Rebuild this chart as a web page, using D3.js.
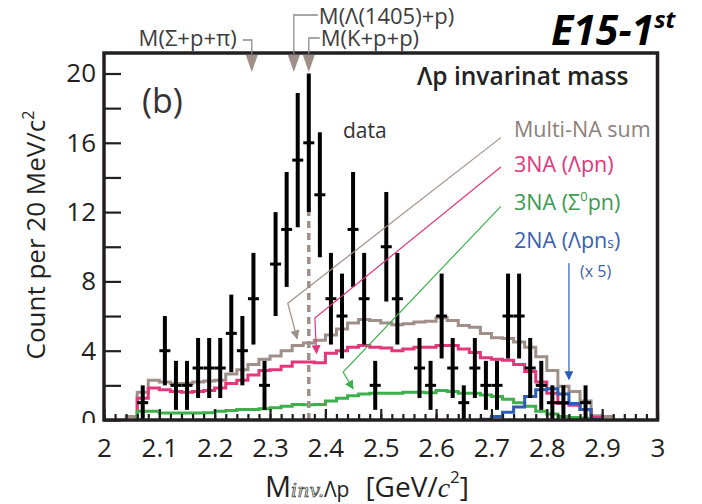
<!DOCTYPE html>
<html>
<head>
<meta charset="utf-8">
<script src="https://cdn.jsdelivr.net/npm/d3@7"></script>
<style>
  body { margin: 0; background: #fff; }
  svg { display: block; }
  text { font-family: "Open Sans", "Noto Sans", sans-serif; }
</style>
</head>
<body>
<svg id="chart" width="702" height="504"></svg>
<script>
// Measured Λp invariant-mass spectrum: bin centres (GeV/c²) and counts per 20 MeV/c²
const dataMass   = [2.07, 2.09, 2.11, 2.13, 2.15, 2.17, 2.19, 2.21, 2.23, 2.25,
                    2.27, 2.29, 2.31, 2.33, 2.35, 2.37, 2.39, 2.41, 2.43, 2.45,
                    2.47, 2.49, 2.51, 2.53, 2.55, 2.57, 2.59, 2.61, 2.63, 2.65,
                    2.67, 2.69, 2.71, 2.73, 2.75, 2.77, 2.79, 2.81, 2.83, 2.85, 2.87];
const dataCounts = [1, 0, 4, 2, 2, 3, 3, 3, 5, 4,
                    7, 2, 9, 11, 15, 16, 13, 7, 6, 11,
                    7, 2, 10, 7, 0, 3, 2, 6, 3, 1,
                    3, 2, 2, 6, 6, 3, 2, 1, 1, 0, 1];

// Simulated spectra, 20 MeV/c² bins given by their lower edge
const simEdges = [2.04, 2.06, 2.08, 2.10, 2.12, 2.14, 2.16, 2.18, 2.20, 2.22, 2.24,
                  2.26, 2.28, 2.30, 2.32, 2.34, 2.36, 2.38, 2.40, 2.42, 2.44,
                  2.46, 2.48, 2.50, 2.52, 2.54, 2.56, 2.58, 2.60, 2.62, 2.64,
                  2.66, 2.68, 2.70, 2.72, 2.74, 2.76, 2.78, 2.80, 2.82, 2.84,
                  2.86, 2.88, 2.90];
const binWidth = 0.02;
const multiNASum = [0.2, 1.6, 2.3, 2.2, 2.1, 2.1, 2.2, 2.25, 2.3, 2.65, 2.9,
                    3.2, 3.5, 3.7, 4.0, 4.3, 4.45, 4.6, 4.9, 5.25, 5.6,
                    5.8, 5.75, 5.6, 5.5, 5.55, 5.65, 5.7, 5.9, 5.75, 5.45,
                    5.35, 5.0, 4.75, 4.7, 4.5, 4.2, 3.65, 2.85, 1.95, 1.65,
                    1.1, 0.25, 0.2];
const threeNALambda = [null, 1.25, 1.85, 1.75, 1.65, 1.6, 1.65, 1.7, 1.85, 2.1, 2.3,
                       2.6, 2.85, 2.9, 3.1, 3.35, 3.35, 3.3, 3.85, 4.0, 4.2,
                       4.3, 4.2, 4.15, 4.0, 4.1, 4.2, 4.2, 4.3, 4.3, 4.1,
                       3.9, 3.6, 3.5, 3.45, 3.2, 2.8, 2.2, 1.55, 0.95, 0.85,
                       0.6, 0.15, null];
const threeNASigma = [null, 0.5, 0.5, 0.4, 0.4, 0.4, 0.4, 0.42, 0.5, 0.55, 0.6,
                      0.6, 0.65, 0.7, 0.8, 0.9, 0.88, 0.9, 1.1, 1.25, 1.4,
                      1.5, 1.55, 1.55, 1.55, 1.6, 1.6, 1.58, 1.7, 1.65, 1.55,
                      1.55, 1.45, 1.35, 1.2, 1.0, 0.8, 0.5, 0.35, 0.2, 0.15,
                      0.1, 0.05, null];
const twoNAx5 = [null, null, null, null, null, null, null, null, null, null, null,
                 null, null, null, null, null, null, null, null, null, null,
                 null, null, null, null, null, null, null, null, null, null,
                 null, 0.05, 0.2, 0.45, 0.75, 1.35, 1.75, 1.8, 1.5, 0.95,
                 0.6, 0.05, null];

// Kinematic thresholds marked along the top frame (GeV/c²)
const thresholdNames  = ["M(Σ+p+π)", "M(Λ(1405)+p)", "M(K+p+p)"];
const thresholdMasses = [2.267, 2.343, 2.370];

const xTickLabels = [2, 2.1, 2.2, 2.3, 2.4, 2.5, 2.6, 2.7, 2.8, 2.9, 3];
const yTickLabels = [0, 4, 8, 12, 16, 20];

const svg = d3.select("#chart");
const defs = svg.append("defs");
const x = d3.scaleLinear().domain([2, 3]).range([104, 657.5]);
const y = d3.scaleLinear().domain([0, 20]).range([420, 73.5]);
const ink = "#231f20";
const brown = "#9f8f88";

// ---- simulated histograms (step outlines) ----
const series = [
  { values: multiNASum,    color: brown },
  { values: threeNALambda, color: "#e3377b" },
  { values: threeNASigma,  color: "#3db04b" },
  { values: twoNAx5,       color: "#2c5db3" }
];
function stepPoints(values) {
  const pts = [];
  values.forEach((v, i) => {
    if (v == null) return;
    if (!pts.length) pts.push([simEdges[i], 0]);
    pts.push([simEdges[i], v]);
    pts.push([simEdges[i] + binWidth, v]);
  });
  if (pts.length) pts.push([pts[pts.length - 1][0], 0]);
  return pts;
}
const stepLine = d3.line().x(d => x(d[0])).y(d => y(d[1]));
svg.append("g").selectAll("path").data(series).join("path")
  .attr("d", d => stepLine(stepPoints(d.values)))
  .attr("fill", "none")
  .attr("stroke", d => d.color)
  .attr("stroke-width", 3)
  .attr("stroke-linejoin", "miter");

// ---- K+p+p threshold line ----
svg.append("line")
  .attr("x1", x(thresholdMasses[2])).attr("x2", x(thresholdMasses[2]))
  .attr("y1", y(0)).attr("y2", y(12))
  .attr("stroke", brown).attr("stroke-width", 3.5)
  .attr("stroke-dasharray", "7,5");

// ---- data points with statistical errors ----
const pts = dataMass.map((m, i) => ({ m, n: dataCounts[i] })).filter(d => d.n > 0);
const gData = svg.append("g");
gData.selectAll("line.err").data(pts).join("line").attr("class", "err")
  .attr("x1", d => x(d.m)).attr("x2", d => x(d.m))
  .attr("y1", d => y(d.n - Math.sqrt(d.n))).attr("y2", d => y(d.n + Math.sqrt(d.n)))
  .attr("stroke", "#000").attr("stroke-width", 4);
gData.selectAll("line.val").data(pts).join("line").attr("class", "val")
  .attr("x1", d => x(d.m) - 5.5).attr("x2", d => x(d.m) + 5.5)
  .attr("y1", d => y(d.n)).attr("y2", d => y(d.n))
  .attr("stroke", "#000").attr("stroke-width", 3);

// ---- axes ----
const yLab = svg.append("g").attr("transform", "translate(104,0)")
  .call(d3.axisLeft(y).tickValues(yTickLabels).tickSize(0).tickPadding(8));
const xLab = svg.append("g").attr("transform", "translate(0,420)")
  .call(d3.axisBottom(x).tickValues(xTickLabels).tickSize(0).tickPadding(19)
        .tickFormat(d => String(+d.toFixed(1))));
[yLab, xLab].forEach(g => {
  g.select(".domain").remove();
  g.selectAll("text").attr("font-family", "'Open Sans', sans-serif")
    .attr("font-size", 26).attr("fill", ink);
});
// the lowest count label sits half behind the mass axis
defs.append("clipPath").attr("id", "ylabclip")
  .append("rect").attr("x", -104).attr("y", 0).attr("width", 104).attr("height", 423);
yLab.attr("clip-path", "url(#ylabclip)");

const yTicks = svg.append("g").attr("transform", "translate(104,0)")
  .call(d3.axisRight(y).tickValues(d3.range(0, 21, 2)).tickSize(17).tickFormat(""));
const xMinor = svg.append("g").attr("transform", "translate(0,420)")
  .call(d3.axisTop(x).tickValues(d3.range(2, 3.001, 0.02)).tickSize(6).tickFormat(""));
const xMajor = svg.append("g").attr("transform", "translate(0,420)")
  .call(d3.axisTop(x).tickValues(xTickLabels).tickSize(11).tickFormat(""));
[yTicks, xMinor, xMajor].forEach(g => {
  g.select(".domain").remove();
  g.selectAll("line").attr("stroke", ink).attr("stroke-width", 2.2);
});

// frame
svg.append("rect")
  .attr("x", x(2)).attr("y", 53)
  .attr("width", x(3) - x(2)).attr("height", y(0) - 53)
  .attr("fill", "none").attr("stroke", ink).attr("stroke-width", 3.5);

// ---- threshold markers on the top frame ----
svg.append("g").selectAll("path").data(thresholdMasses).join("path")
  .attr("d", m => `M${x(m) - 6},55L${x(m) + 6},55L${x(m)},72Z`)
  .attr("fill", brown);

const lead = svg.append("g").attr("fill", "none").attr("stroke", "#8a8a8a").attr("stroke-width", 1.3);
lead.append("path").attr("d", `M${x(thresholdMasses[0]) - 9},40H${x(thresholdMasses[0])}V54`);
lead.append("path").attr("d", `M${x(thresholdMasses[1]) + 24},15H${x(thresholdMasses[1])}V54`);
lead.append("path").attr("d", `M${x(thresholdMasses[2]) + 11},38H${x(thresholdMasses[2])}V54`);

const annot = svg.append("g").attr("fill", "#3d3d3d").attr("font-size", 22);
annot.append("text").attr("x", x(thresholdMasses[0]) - 15).attr("y", 46)
  .attr("text-anchor", "end").text(thresholdNames[0]);
annot.append("text").attr("x", x(thresholdMasses[1]) + 25).attr("y", 23.5).text(thresholdNames[1]);
annot.append("text").attr("x", x(thresholdMasses[2]) + 12).attr("y", 46).text(thresholdNames[2]);

// experiment tag
const tag = svg.append("text").attr("x", 551).attr("y", 45)
  .attr("font-family", "Lato, 'Open Sans', sans-serif")
  .attr("font-weight", 700).attr("font-style", "italic").attr("font-size", 41).attr("fill", "#000");
tag.append("tspan").text("E15-1");
tag.append("tspan").attr("font-size", 24).attr("dy", -17).text("st");

// panel label and title
svg.append("text").attr("x", 142).attr("y", 113).attr("font-size", 34).attr("fill", "#333").text("(b)");
svg.append("text").attr("x", 417).attr("y", 85).attr("font-size", 24.5).attr("font-weight", 600)
  .attr("fill", "#222").text("Λp invarinat mass");
svg.append("text").attr("x", 343).attr("y", 138).attr("font-size", 21).attr("fill", "#333").text("data");

// ---- legend with pointers ----
function marker(id, color) {
  defs.append("marker").attr("id", id).attr("viewBox", "0 0 10 10")
    .attr("refX", 9).attr("refY", 5).attr("markerWidth", 10).attr("markerHeight", 9)
    .attr("markerUnits", "userSpaceOnUse").attr("orient", "auto")
    .append("path").attr("d", "M0,0L10,5L0,10Z").attr("fill", color);
}
const legend = [
  { label: "Multi-NA sum", color: "#8d807a", line: brown,     pts: [[2.717, 16.3], [2.332, 6.74], [2.349, 4.7]] },
  { label: "3NA (Λpn)",    color: "#e2357a", line: "#e3377b", pts: [[2.717, 14.6], [2.381, 5.88], [2.384, 3.85]] },
  { label: "3NA (Σ",       color: "#3a9a50", line: "#3db04b", pts: [[2.717, 12.33], [2.432, 2.77], [2.450, 1.8]] },
  { label: "2NA (Λpn",     color: "#3a5fae", line: "#2c5db3", pts: [[2.840, 9.05], [2.840, 2.35]] }
];
legend.forEach((d, i) => marker("arr" + i, d.line));
const pLine = d3.line().x(d => x(d[0])).y(d => y(d[1]));
svg.append("g").selectAll("path").data(legend).join("path")
  .attr("d", d => pLine(d.pts))
  .attr("fill", "none").attr("stroke", d => d.line).attr("stroke-width", 1.2)
  .attr("marker-end", (d, i) => `url(#arr${i})`);

const legY = [137, 172, 210, 248];
const lt = svg.append("g").attr("font-size", 21.5);
legend.forEach((d, i) => {
  const t = lt.append("text").attr("x", 514).attr("y", legY[i]).attr("fill", d.color).text(d.label);
  if (i === 2) {
    t.append("tspan").attr("font-size", 13).attr("dy", -9).text("0");
    t.append("tspan").attr("dy", 9).text("pn)");
  }
  if (i === 3) {
    t.append("tspan").attr("font-size", 14).text("s");
    t.append("tspan").text(")");
  }
});
svg.append("text").attr("x", 580).attr("y", 277).attr("font-size", 16).attr("fill", "#3a5fae").text("(x 5)");

// ---- axis titles ----
svg.append("text").attr("transform", "translate(45,235) rotate(-90)")
  .attr("text-anchor", "middle").attr("font-size", 26).attr("fill", ink)
  .call(t => {
    t.append("tspan").text("Count per 20 MeV/c");
    t.append("tspan").attr("font-size", 16).attr("dy", -11).text("2");
  });
const xt = svg.append("text").attr("x", 265).attr("y", 497).attr("fill", ink);
xt.append("tspan").attr("font-size", 29).text("M");
xt.append("tspan").attr("font-size", 19).attr("font-style", "italic")
  .attr("font-family", "'DejaVu Serif', serif").attr("fill", "#fff").attr("stroke", ink)
  .attr("stroke-width", 0.7).text("inv.");
xt.append("tspan").attr("font-size", 21).text("Λp");
xt.append("tspan").attr("font-size", 28).attr("dx", 16).text("[GeV/");
xt.append("tspan").attr("font-size", 28).attr("font-style", "italic")
  .attr("font-family", "'Liberation Serif', serif").text("c");
xt.append("tspan").attr("font-size", 17).attr("dy", -14).text("2");
xt.append("tspan").attr("font-size", 28).attr("dy", 14).text("]");
</script>
</body>
</html>
